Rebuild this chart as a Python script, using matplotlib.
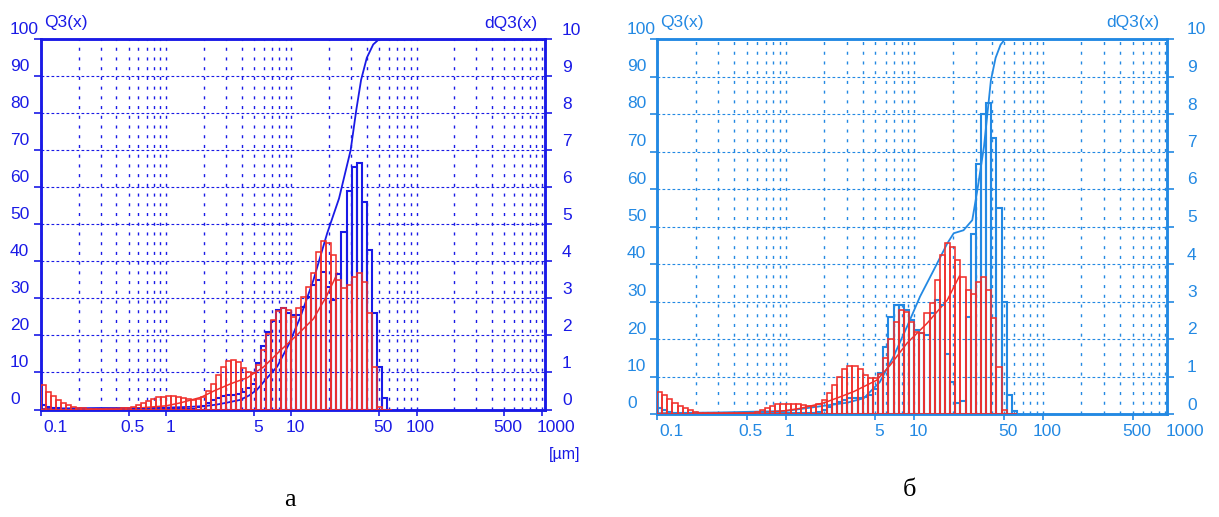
import matplotlib.pyplot as plt
import numpy as np
from matplotlib import font_manager
from matplotlib.ticker import FixedLocator, LogLocator, NullFormatter

# narrow sans for the instrument lettering, plain sans if it is missing
_names = {f.name for f in font_manager.fontManager.ttflist}
_sans = 'Liberation Sans Narrow' if 'Liberation Sans Narrow' in _names else 'Liberation Sans'
plt.rcParams['font.family'] = [_sans, 'DejaVu Sans']

PT = 0.72  # points per pixel at dpi=100

# analyser channels: 25 per decade starting at 0.1 µm
edges = np.logspace(-1, 1.8, 71)

xticks = [0.1, 0.5, 1, 5, 10, 50, 100, 500, 1000]
xlabels = ['0.1', '0.5', '1', '5', '10', '50', '100', '500', '1000']

# ---- sample а : dQ3 per channel, %
red_a = [0.66, 0.48, 0.36, 0.26, 0.18, 0.12, 0.08, 0.05, 0.03, 0.02,
         0.02, 0.02, 0.02, 0.02, 0.02, 0.02, 0.03, 0.05, 0.08, 0.12,
         0.18, 0.24, 0.29, 0.33, 0.35, 0.36, 0.36, 0.34, 0.31, 0.28,
         0.27, 0.28, 0.35, 0.50, 0.70, 0.92, 1.15, 1.30, 1.34, 1.27,
         1.12, 1.02, 0.98, 1.20, 1.60, 2.05, 2.42, 2.65, 2.75, 2.68,
         2.50, 2.75, 3.05, 3.32, 3.68, 4.26, 4.56, 4.49, 4.17, 3.50,
         3.27, 3.36, 3.59, 3.68, 3.45, 2.60, 1.15, 0.08, 0.0, 0.0]
blue_a = [0.12, 0.08, 0.05, 0.03, 0.02, 0.02, 0.02, 0.02, 0.02, 0.02,
          0.02, 0.02, 0.02, 0.02, 0.02, 0.02, 0.02, 0.02, 0.02, 0.02,
          0.02, 0.02, 0.02, 0.02, 0.02, 0.02, 0.02, 0.02, 0.02, 0.02,
          0.02, 0.06, 0.10, 0.17, 0.25, 0.32, 0.37, 0.40, 0.40, 0.42,
          0.48, 0.58, 0.70, 1.25, 1.72, 2.10, 2.38, 2.68, 2.73, 2.62,
          2.55, 2.55, 2.78, 3.05, 3.36, 3.50, 3.72, 3.30, 2.95, 3.65,
          4.80, 5.90, 6.55, 6.65, 5.60, 4.30, 2.60, 1.15, 0.30, 0.0]
# Q3 cumulative, %
q_red_a_x = [0.1, 0.3, 0.6, 1.0, 1.3, 1.9, 2.4, 3.3, 4.45, 6.0, 8.2, 11.0, 15.0, 19.0, 23.3]
q_red_a_y = [0.1, 0.2, 0.4, 1.0, 1.8, 3.3, 5.0, 7.0, 8.6, 11.5, 16.0, 20.0, 24.5, 30.5, 36.8]
q_blue_a_x = [0.1, 0.15, 0.3, 0.6, 1.0, 1.5, 2.0, 2.5, 3.0, 3.9, 4.6, 5.3, 6.2, 7.7, 9.5,
              11.8, 15.0, 19.3, 24.0, 29.7, 33.0, 36.0, 40.0, 45.0, 50.0, 1000]
q_blue_a_y = [0.1, 0.3, 0.4, 0.4, 0.5, 0.7, 0.9, 1.3, 1.8, 2.6, 3.8, 5.3, 8.0, 11.6, 17.5,
              25.0, 35.0, 47.6, 57.0, 70.0, 81.0, 89.0, 95.0, 98.6, 100, 100]

# ---- sample б
red_b = [0.60, 0.50, 0.40, 0.30, 0.22, 0.15, 0.10, 0.06, 0.04, 0.03,
         0.02, 0.02, 0.02, 0.02, 0.02, 0.02, 0.02, 0.02, 0.02, 0.06,
         0.10, 0.16, 0.22, 0.26, 0.28, 0.28, 0.28, 0.26, 0.24, 0.22,
         0.22, 0.26, 0.37, 0.55, 0.77, 0.99, 1.19, 1.28, 1.28, 1.20,
         1.04, 0.95, 0.95, 1.08, 1.50, 2.00, 2.45, 2.78, 2.72, 2.46,
         2.20, 2.15, 2.69, 2.95, 3.57, 4.24, 4.55, 4.46, 4.10, 3.66,
         3.30, 3.20, 3.53, 3.66, 3.30, 2.55, 1.26, 0.10, 0.0, 0.0]
blue_b = [0.15, 0.10, 0.06, 0.04, 0.02, 0.02, 0.02, 0.02, 0.02, 0.02,
          0.02, 0.02, 0.02, 0.02, 0.02, 0.02, 0.02, 0.02, 0.02, 0.02,
          0.02, 0.02, 0.02, 0.02, 0.02, 0.02, 0.02, 0.02, 0.02, 0.02,
          0.02, 0.05, 0.10, 0.18, 0.26, 0.32, 0.38, 0.42, 0.42, 0.43,
          0.46, 0.50, 0.68, 1.10, 1.80, 2.60, 2.90, 2.90, 2.77, 2.50,
          2.24, 2.15, 2.10, 2.69, 3.04, 2.90, 1.60, 0.85, 0.30, 0.35,
          2.60, 4.80, 6.68, 8.00, 8.30, 7.35, 5.50, 3.00, 0.50, 0.08]
q_red_b_x = [0.1, 0.3, 0.7, 1.0, 1.3, 2.0, 2.67, 3.4, 5.1, 6.5, 8.8, 12.6, 18.1, 22.5]
q_red_b_y = [0.1, 0.2, 0.4, 0.9, 1.5, 3.0, 4.6, 6.0, 9.0, 13.0, 18.9, 24.2, 30.4, 36.8]
q_blue_b_x = [0.1, 0.3, 1.0, 2.0, 3.0, 4.05, 5.4, 6.9, 8.8, 11.1, 14.2, 18.1, 20.3, 24.2,
              28.3, 31.0, 34.9, 39.5, 43.0, 47.0, 51.0, 1000]
q_blue_b_y = [0.2, 0.4, 0.8, 2.2, 3.0, 4.2, 8.5, 15.3, 23.3, 31.3, 38.4, 45.5, 48.2, 49.0,
              51.7, 59.7, 71.3, 89.0, 95.0, 98.5, 100, 100]

RED = '#f0302c'

fig = plt.figure(figsize=(12.19, 5.17), dpi=100)


def panel(rect, xmax, col, red_h, blue_h, qr, qb, lpad, rpad, unit=False):
    ax = fig.add_axes(rect)
    ax.set_xscale('log')
    ax.set_xlim(0.1, xmax)
    ax.set_ylim(0, 100)
    ax2 = ax.twinx()
    ax2.set_ylim(0, 10)

    ax.set_yticks(range(0, 101, 10))
    ax.set_yticklabels([])
    ax2.set_yticks(range(0, 11))
    ax2.set_yticklabels([])
    ax.xaxis.set_major_locator(FixedLocator(xticks))
    ax.xaxis.set_minor_locator(LogLocator(base=10, subs=np.arange(1, 10), numticks=40))
    ax.xaxis.set_minor_formatter(NullFormatter())
    ax.set_xticklabels([])

    ax.yaxis.grid(True, color=col, ls=(0, (2.5, 2)), lw=0.8)
    ax.xaxis.grid(True, which='both', color=col, ls=(0, (2.2, 4.8)), lw=1.0)
    ax.tick_params(axis='x', which='minor', length=0)
    ax.tick_params(axis='x', which='major', length=4, width=1.2, color=col)
    ax.tick_params(axis='y', length=5, width=1.2, color=col)
    ax2.tick_params(axis='y', length=5, width=1.2, color=col)
    for a in (ax, ax2):
        for s in a.spines.values():
            s.set_color(col)
            s.set_linewidth(1.8)

    # frequency histograms on the dQ3 scale
    w = np.diff(edges)
    ax2.bar(edges[:-1], blue_h, width=w, align='edge', fill=False,
            edgecolor=col, lw=1.5, zorder=2)
    ax2.bar(edges[:-1], red_h, width=w, align='edge', fill=False,
            edgecolor=RED, lw=1.15, zorder=3)
    # cumulative curves on the Q3 scale
    ax.plot(qb[0], qb[1], color=col, lw=1.3, zorder=4)
    ax.plot(qr[0], qr[1], color=RED, lw=1.1, zorder=4)

    kw = dict(textcoords='offset points', color=col, fontsize=12.5, annotation_clip=False)
    for v in range(0, 101, 10):
        ax.annotate(str(v), xy=(0, v), xycoords=('axes fraction', 'data'),
                    xytext=(lpad * PT, 10 * PT), ha='left', va='center', **kw)
    for v in range(0, 11):
        ax2.annotate(str(v), xy=(1, v), xycoords=('axes fraction', 'data'),
                     xytext=(rpad * PT, 9 * PT), ha='left', va='center', **kw)
    for val, lab in zip(xticks, xlabels):
        dx = 4
        ha = 'center'
        if val == 0.1:
            dx, ha = 2, 'left'
        if val == 1000:
            dx = 14
        ax.annotate(lab, xy=(val, 0), xycoords=('data', 'axes fraction'),
                    xytext=(dx * PT, -10 * PT), ha=ha, va='top', **kw)
    ax.annotate('Q3(x)', xy=(0, 1), xycoords='axes fraction',
                xytext=(3 * PT, 17 * PT), ha='left', va='center', **kw)
    ax.annotate('dQ3(x)', xy=(1, 1), xycoords='axes fraction',
                xytext=(-8 * PT, 16 * PT), ha='right', va='center', **kw)
    if unit:
        ax.annotate('[µm]', xy=(1000, 0), xycoords=('data', 'axes fraction'),
                    xytext=(23 * PT, -45 * PT), ha='center', va='center',
                    textcoords='offset points', color=col, fontsize=11.5,
                    annotation_clip=False)
    return ax


W, H = 1219, 517
panel([41 / W, (H - 409.5) / H, 504 / W, 370.2 / H], 1060, '#1a1ae6',
      red_a, blue_a, (q_red_a_x, q_red_a_y), (q_blue_a_x, q_blue_a_y),
      lpad=-31, rpad=17, unit=True)
panel([657 / W, (H - 414) / H, 510 / W, 375 / H], 925, '#2389e3',
      red_b, blue_b, (q_red_b_x, q_red_b_y), (q_blue_b_x, q_blue_b_y),
      lpad=-30, rpad=20)

fig.text(290 / W, 1 - 500 / H, 'а', ha='center', va='center',
         family='Liberation Serif', fontsize=19)
fig.text(909 / W, 1 - 490 / H, 'б', ha='center', va='center',
         family='Liberation Serif', fontsize=19)

fig.savefig('out.png', dpi=100, facecolor='white')
